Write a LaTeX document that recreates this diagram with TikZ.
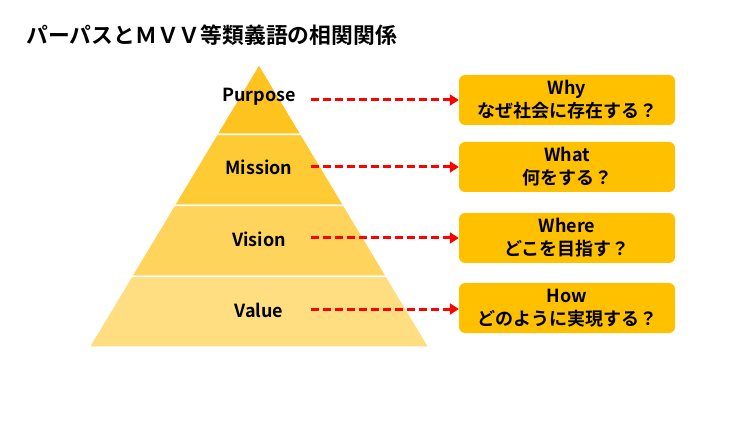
\documentclass[tikz,border=0pt]{standalone}
\usepackage{fontspec}
\setmainfont{Noto Sans CJK JP}[BoldFont=* Bold]
\usepackage{tikz}
\usetikzlibrary{arrows.meta}
\definecolor{bandA}{HTML}{FFC31F}
\definecolor{bandB}{HTML}{FFCB35}
\definecolor{bandC}{HTML}{FFD45C}
\definecolor{bandD}{HTML}{FFDE82}
\definecolor{boxfill}{HTML}{FFC000}
\tikzstyle{band}=[draw=white,line width=1.5pt,line join=miter]
\tikzstyle{level}=[
font=\bfseries\fontsize{18}{20}\selectfont,
text=black,
inner sep=0pt
]
\tikzstyle{answer}=[
fill=boxfill,
draw=none,
rounded corners=6pt,
minimum width=216pt,
minimum height=50pt,
align=center,
inner sep=0pt,
font=\bfseries\fontsize{18}{23}\selectfont
]
\tikzstyle{pointer} = [color=red,line width=3pt,dash pattern=on 8pt off 4pt,-{Triangle[length=9pt,width=11pt]}]

\begin{document}
\begin{tikzpicture}[x=1pt,y=-1pt]
			\useasboundingbox (0,0) rectangle (750,422);
			
			\node[anchor=west,font=\bfseries\fontsize{21.8}{24}\selectfont] (title) at (23,35) {パーパスとＭＶＶ等類義語の相関関係};
			
			\path[band,fill=bandA] (259,64) -- (301.35,134.5) -- (216.65,134.5) -- cycle;
			\path[band,fill=bandB] (216.65,134.5) -- (301.35,134.5) -- (344,205.5) -- (174,205.5) -- cycle;
			\path[band,fill=bandC] (174,205.5) -- (344,205.5) -- (386.65,276.5) -- (131.35,276.5) -- cycle;
			\path[band,fill=bandD] (131.35,276.5) -- (386.65,276.5) -- (429,347) -- (89,347) -- cycle;
			
			\node[level] (purpose) at (259,97) {Purpose};
			\node[level] (mission) at (259,167) {Mission};
			\node[level] (vision)  at (259,239) {Vision};
			\node[level] (value)   at (259,310) {Value};
			
			\coordinate (p1) at (311,100);
			\coordinate (p2) at (311,167);
			\coordinate (p3) at (311,238);
			\coordinate (p4) at (311,309);
			
			\node[answer] (why)   at (567,100) {Why\\なぜ社会に存在する？};
			\node[answer] (what)  at (567,167) {What\\何をする？};
			\node[answer] (where) at (567,238) {Where\\どこを目指す？};
			\node[answer] (how)   at (567,308) {How\\どのように実現する？};
			
			\draw[pointer] (p1) -- (why.west |- p1);
			\draw[pointer] (p2) -- (what.west |- p2);
			\draw[pointer] (p3) -- (where.west |- p3);
			\draw[pointer] (p4) -- (how.west |- p4);
			
\end{tikzpicture}
\end{document}
